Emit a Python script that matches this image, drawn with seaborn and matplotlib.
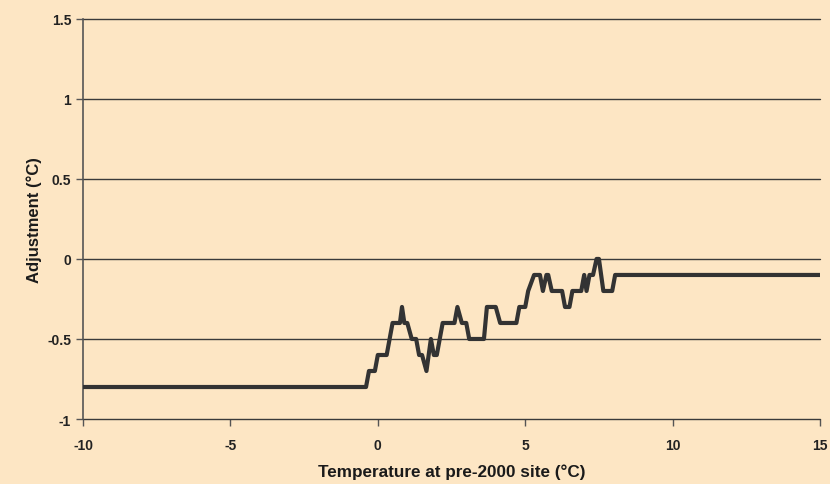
import matplotlib
matplotlib.use("Agg")
import matplotlib.pyplot as plt
import seaborn as sns
import pandas as pd

# step trace
temp_pre2000 = [-10, -0.4, -0.3, -0.1, 0.0, 0.3, 0.5, 0.75, 0.82, 0.9, 1.0, 1.15, 1.3,
                1.4, 1.5, 1.65, 1.8, 1.9, 2.0, 2.2, 2.6, 2.7, 2.85, 3.0, 3.1, 3.6, 3.7,
                4.0, 4.15, 4.7, 4.8, 5.0, 5.1, 5.3, 5.5, 5.6, 5.72, 5.78, 5.9, 6.25,
                6.35, 6.5, 6.6, 6.9, 7.0, 7.08, 7.18, 7.3, 7.42, 7.5, 7.65, 7.95, 8.05, 15]
adjustment = [-0.8, -0.8, -0.7, -0.7, -0.6, -0.6, -0.4, -0.4, -0.3, -0.4, -0.4, -0.5, -0.5,
              -0.6, -0.6, -0.7, -0.5, -0.6, -0.6, -0.4, -0.4, -0.3, -0.4, -0.4, -0.5, -0.5, -0.3,
              -0.3, -0.4, -0.4, -0.3, -0.3, -0.2, -0.1, -0.1, -0.2, -0.1, -0.1, -0.2, -0.2,
              -0.3, -0.3, -0.2, -0.2, -0.1, -0.2, -0.1, -0.1, 0.0, 0.0, -0.2, -0.2, -0.1, -0.1]
x_ticks = [-10, -5, 0, 5, 10, 15]
y_ticks = [-1, -0.5, 0, 0.5, 1, 1.5]
y_labels = ["-1", "-0.5", "0", "0.5", "1", "1.5"]

bg = "#fde6c4"
sns.set_style("ticks", {"axes.facecolor": bg, "figure.facecolor": bg})
plt.rcParams["font.family"] = ["Liberation Sans", "DejaVu Sans"]
plt.rcParams["axes.unicode_minus"] = False

df = pd.DataFrame({"temp": temp_pre2000, "adj": adjustment})

fig = plt.figure(figsize=(8.3, 4.85), dpi=100)
ax = fig.add_axes([0.1, 0.134, 0.888, 0.825])

for yv in y_ticks:
    ax.axhline(yv, color="#3a3a3a", lw=1.0, zorder=1, clip_on=False)

sns.lineplot(data=df, x="temp", y="adj", sort=False, estimator=None,
             color="#333333", lw=3, ax=ax, zorder=3)

ax.set_xlim(-10, 15)
ax.set_ylim(-1, 1.5)
ax.set_xticks(x_ticks)
ax.set_yticks(y_ticks)
ax.set_yticklabels(y_labels)
ax.tick_params(axis="both", direction="out", length=5, width=1, color="#555555",
               labelcolor="#222222", labelsize=10)
ax.tick_params(axis="x", pad=9)
for lab in ax.get_xticklabels() + ax.get_yticklabels():
    lab.set_fontweight("bold")
for s in ["top", "right", "bottom"]:
    ax.spines[s].set_visible(False)
ax.spines["left"].set_color("#555555")
ax.spines["left"].set_linewidth(1.2)

ax.set_xlabel("Temperature at pre-2000 site (°C)", fontsize=12.3, fontweight="bold",
              color="#1a1a1a", labelpad=8)
ax.set_ylabel("Adjustment (°C)", fontsize=12, fontweight="bold", color="#1a1a1a",
              labelpad=4)

fig.savefig("out.png", dpi=100, facecolor=bg)
